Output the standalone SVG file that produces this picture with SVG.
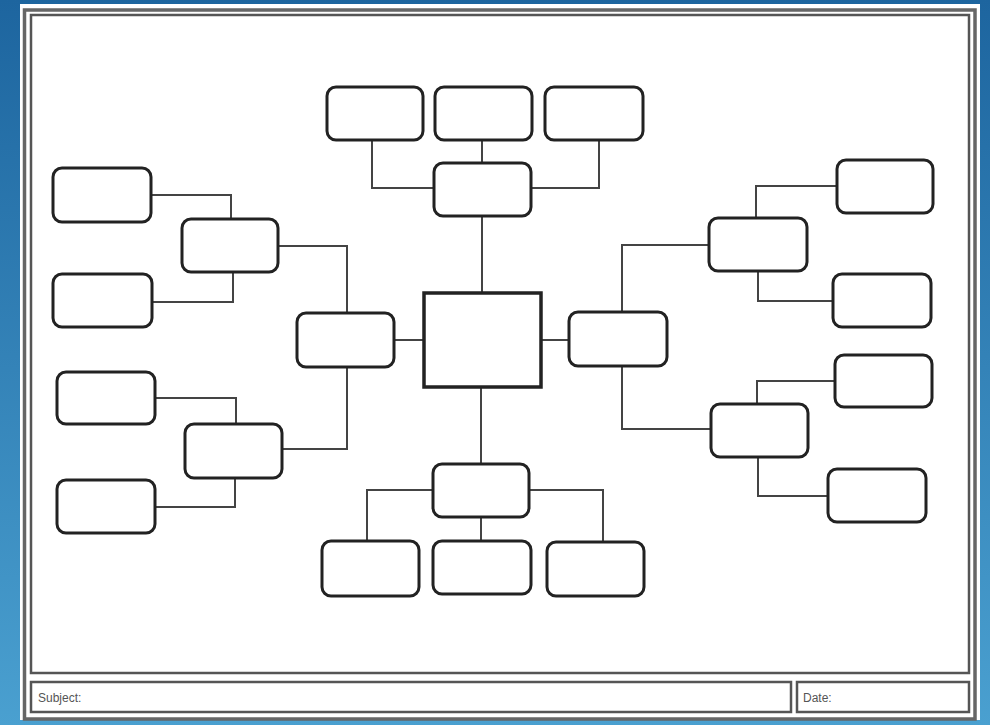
<svg xmlns="http://www.w3.org/2000/svg" width="990" height="725" viewBox="0 0 990 725">
<defs>
<linearGradient id="bg" x1="0" y1="0" x2="0" y2="1">
<stop offset="0" stop-color="#1d659f"/>
<stop offset="1" stop-color="#4aa0d0"/>
</linearGradient>
</defs>
<style>
.node{fill:#fff;stroke:#222;stroke-width:3}
.center{fill:#fff;stroke:#222;stroke-width:3.5}
.conn{fill:none;stroke:#444;stroke-width:2}
.frame{fill:none;stroke:#666;stroke-width:3.5}
.frame2{fill:none;stroke:#555;stroke-width:2.5}
.lbl{font-family:"Liberation Sans",Arial,sans-serif;font-size:12px;fill:#555}
</style>
<rect x="0" y="0" width="990" height="725" fill="url(#bg)"/>
<rect x="20" y="4" width="960" height="716" fill="#fff"/>
<rect class="frame" x="24.5" y="10" width="950.5" height="709"/>
<rect class="frame2" x="31" y="15" width="938" height="658"/>
<rect class="frame2" x="31" y="682" width="760" height="30"/>
<rect class="frame2" x="797" y="682" width="172" height="30"/>
<text class="lbl" x="38" y="702">Subject:</text>
<text class="lbl" x="803" y="702">Date:</text>
<g id="connectors">
<path class="conn" d="M372 140V188H434M482 140V163M599 140V188H531M482 216V293"/>
<path class="conn" d="M394 340H424M541 340H569M481 387V464"/>
<path class="conn" d="M151 195H231V219M152 302H233V272M278 246H347V313"/>
<path class="conn" d="M155 398H236V424M155 507H235V478M282 449H347V367"/>
<path class="conn" d="M622 312V245H709M756 218V186H837M758 271V301H833"/>
<path class="conn" d="M622 366V429H711M757 404V381H835M758 457V496H828"/>
<path class="conn" d="M433 490H367V541M481 517V541M529 490H603V542"/>
</g>
<g id="center"><rect class="center" x="424" y="293" width="117" height="94"/></g>
<g id="top-mid"><rect class="node" x="434" y="163" width="97" height="53" rx="9"/></g>
<g id="top-1"><rect class="node" x="327" y="87" width="96" height="53" rx="9"/></g>
<g id="top-2"><rect class="node" x="435" y="87" width="97" height="53" rx="9"/></g>
<g id="top-3"><rect class="node" x="545" y="87" width="98" height="53" rx="9"/></g>
<g id="left-mid"><rect class="node" x="297" y="313" width="97" height="54" rx="9"/></g>
<g id="right-mid"><rect class="node" x="569" y="312" width="98" height="54" rx="9"/></g>
<g id="bottom-mid"><rect class="node" x="433" y="464" width="96" height="53" rx="9"/></g>
<g id="bottom-1"><rect class="node" x="322" y="541" width="97" height="55" rx="9"/></g>
<g id="bottom-2"><rect class="node" x="433" y="541" width="98" height="53" rx="9"/></g>
<g id="bottom-3"><rect class="node" x="547" y="542" width="97" height="54" rx="9"/></g>
<g id="left-upper"><rect class="node" x="182" y="219" width="96" height="53" rx="9"/></g>
<g id="left-upper-1"><rect class="node" x="53" y="168" width="98" height="54" rx="9"/></g>
<g id="left-upper-2"><rect class="node" x="53" y="274" width="99" height="53" rx="9"/></g>
<g id="left-lower"><rect class="node" x="185" y="424" width="97" height="54" rx="9"/></g>
<g id="left-lower-1"><rect class="node" x="57" y="372" width="98" height="52" rx="9"/></g>
<g id="left-lower-2"><rect class="node" x="57" y="480" width="98" height="53" rx="9"/></g>
<g id="right-upper"><rect class="node" x="709" y="218" width="98" height="53" rx="9"/></g>
<g id="right-upper-1"><rect class="node" x="837" y="160" width="96" height="53" rx="9"/></g>
<g id="right-upper-2"><rect class="node" x="833" y="274" width="98" height="53" rx="9"/></g>
<g id="right-lower"><rect class="node" x="711" y="404" width="97" height="53" rx="9"/></g>
<g id="right-lower-1"><rect class="node" x="835" y="355" width="97" height="52" rx="9"/></g>
<g id="right-lower-2"><rect class="node" x="828" y="469" width="98" height="53" rx="9"/></g>
</svg>
